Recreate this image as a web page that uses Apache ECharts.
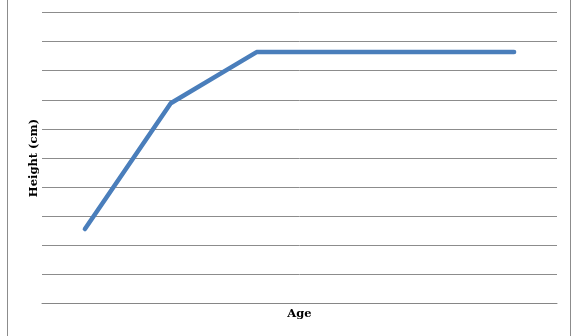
<!DOCTYPE html>
<html>
<head>
<meta charset="utf-8">
<script src="https://cdn.jsdelivr.net/npm/echarts@6/dist/echarts.min.js"></script>
<style>html,body{margin:0;padding:0;background:#fff;}#c{width:582px;height:336px;}</style>
</head>
<body>
<div id="c"></div>
<script>
const categories = ['1', '2', '3', '4', '5', '6'];
const heights = [2.56, 6.88, 8.64, 8.64, 8.64, 8.64];
const xTitle = 'Age';
const yTitle = 'Height (cm)';

const chart = echarts.init(document.getElementById('c'), null, {renderer: 'canvas'});
chart.setOption({
  animation: false,
  backgroundColor: '#ffffff',
  graphic: [{
    type: 'rect', shape: {x: 7.5, y: -5, width: 563, height: 346},
    style: {fill: 'none', stroke: '#8c8c8c', lineWidth: 1}, silent: true
  }],
  grid: {left: 42, right: 25, top: 12.5, bottom: 32.5},
  xAxis: {
    type: 'category', data: categories, boundaryGap: true,
    axisLine: {show: true, lineStyle: {color: '#868686', width: 1}},
    axisTick: {show: false}, axisLabel: {show: false},
    name: xTitle, nameLocation: 'middle', nameGap: 5,
    nameTextStyle: {fontFamily: 'DejaVu Serif', fontWeight: 'bold', fontSize: 11.5, color: '#000', verticalAlign: 'top'}
  },
  yAxis: {
    type: 'value', min: 0, max: 10, interval: 1,
    axisLine: {show: false}, axisTick: {show: false}, axisLabel: {show: false},
    splitLine: {show: true, lineStyle: {color: '#8c8c8c', width: 1}},
    name: yTitle, nameLocation: 'middle', nameGap: 2, nameRotate: 90,
    nameTextStyle: {fontFamily: 'DejaVu Serif', fontWeight: 'bold', fontSize: 11.5, color: '#000'}
  },
  series: [{
    type: 'line', data: heights, symbol: 'none',
    lineStyle: {color: '#4a7ebb', width: 4.5, cap: 'round', join: 'round'}
  }]
});
</script>
</body>
</html>
